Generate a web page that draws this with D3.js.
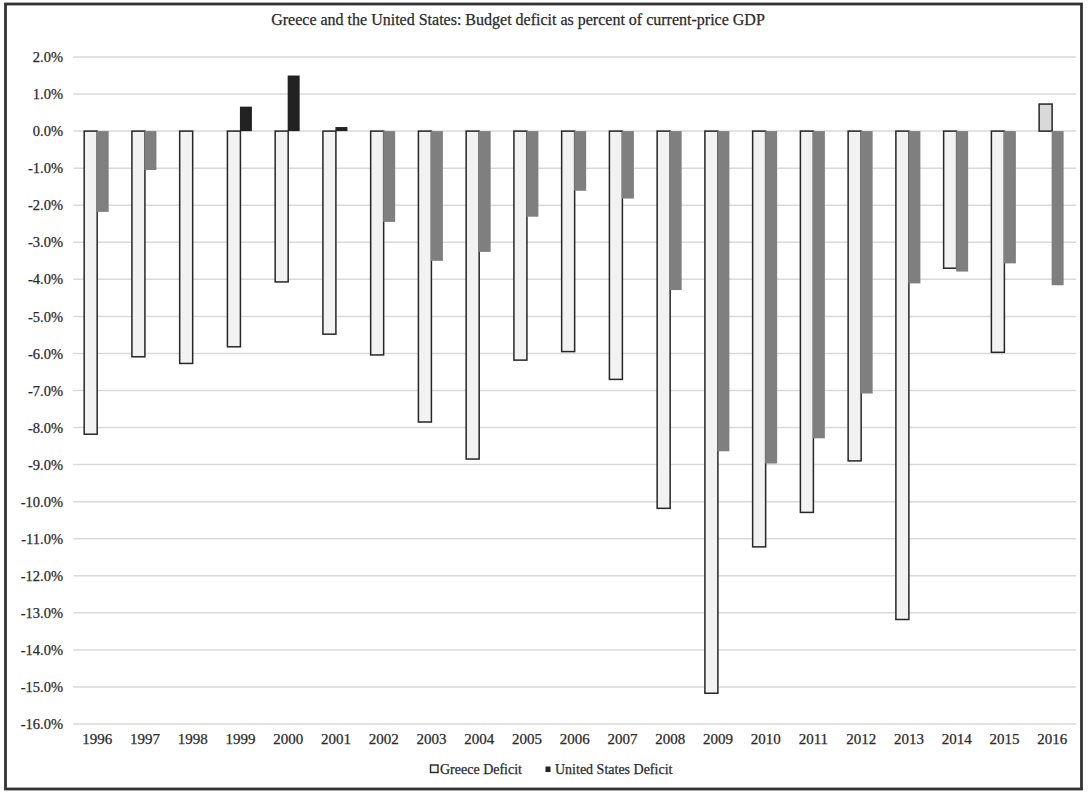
<!DOCTYPE html>
<html>
<head>
<meta charset="utf-8">
<script src="https://cdn.jsdelivr.net/npm/d3@7"></script>
<style>
  html, body { margin: 0; padding: 0; background: #fff; }
  svg { display: block; }
  text { font-family: "Liberation Serif", "DejaVu Serif", serif; fill: #2a2a2a; stroke: #2a2a2a; stroke-width: 0.25px; }
</style>
</head>
<body>
<svg id="chart" width="1088" height="792"></svg>
<script>
const years = ["1996","1997","1998","1999","2000","2001","2002","2003","2004","2005","2006","2007","2008","2009","2010","2011","2012","2013","2014","2015","2016"];
const greeceDeficit = [-8.18,-6.09,-6.27,-5.82,-4.07,-5.48,-6.04,-7.85,-8.85,-6.18,-5.95,-6.70,-10.18,-15.17,-11.22,-10.29,-8.90,-13.18,-3.70,-5.97,0.73];
const usDeficit = [-2.18,-1.05,0.0,0.66,1.50,0.11,-2.45,-3.50,-3.26,-2.31,-1.61,-1.82,-4.29,-8.64,-8.97,-8.29,-7.08,-4.11,-3.79,-3.57,-4.16];
const seriesNames = ["Greece Deficit","United States Deficit"];
const yTicks = [2,1,0,-1,-2,-3,-4,-5,-6,-7,-8,-9,-10,-11,-12,-13,-14,-15,-16];
const titleText = "Greece and the United States: Budget deficit as percent of current-price GDP";

const svg = d3.select("#chart");

// outer frame
svg.append("rect").attr("x", 5.5).attr("y", 4).attr("width", 1076).attr("height", 785)
  .attr("fill", "#fff").attr("stroke", "#333").attr("stroke-width", 2.8);

const x = d3.scaleBand().domain(years).range([73.3, 1076]).padding(0);
const xInner = d3.scaleBand().domain(seriesNames).range([0, x.bandwidth()]).paddingInner(0).paddingOuter(0.837);
const y = d3.scaleLinear().domain([-16, 2]).range([724, 57]);

// gridlines
svg.append("g").selectAll("line").data(yTicks).join("line")
  .attr("x1", x.range()[0]).attr("x2", x.range()[1])
  .attr("y1", d => y(d)).attr("y2", d => y(d))
  .attr("stroke", "#d9d9d9").attr("stroke-width", 1.5);

// y axis labels
const yAxis = d3.axisLeft(y).tickValues(yTicks).tickSize(0).tickPadding(0)
  .tickFormat(d => d.toFixed(1) + "%");
const gy = svg.append("g").attr("transform", "translate(63,0)").call(yAxis);
gy.select(".domain").remove();
gy.selectAll("text").attr("font-family", "Liberation Serif").attr("font-size", 14.5).attr("fill", "#2a2a2a");

// x axis labels
const xAxis = d3.axisBottom(x).tickSize(0).tickPadding(0);
const gx = svg.append("g").attr("transform", "translate(0,733)").call(xAxis);
gx.select(".domain").remove();
gx.selectAll("text").attr("font-family", "Liberation Serif").attr("font-size", 15).attr("fill", "#2a2a2a");

// Greece bars
const bars = svg.append("g");
bars.selectAll("rect.gr").data(years.map((yr, i) => ({yr, v: greeceDeficit[i]}))).join("rect")
  .attr("class", "gr")
  .attr("x", d => x(d.yr) + xInner(seriesNames[0]))
  .attr("width", xInner.bandwidth())
  .attr("y", d => y(Math.max(0, d.v)))
  .attr("height", d => Math.abs(y(d.v) - y(0)))
  .attr("fill", d => d.v >= 0 ? "#d9d9d9" : "#f2f2f2")
  .attr("stroke", "#262626").attr("stroke-width", 1.5);

// US bars
bars.selectAll("rect.us").data(years.map((yr, i) => ({yr, v: usDeficit[i]}))).join("rect")
  .attr("class", "us")
  .attr("x", d => x(d.yr) + xInner(seriesNames[1]) - 0.5)
  .attr("width", xInner.bandwidth() - 1)
  .attr("y", d => y(Math.max(0, d.v)))
  .attr("height", d => Math.abs(y(d.v) - y(0)))
  .attr("fill", d => d.v >= 0 ? "#222" : "#7f7f7f");

// title
svg.append("text").attr("x", 518).attr("y", 25).attr("text-anchor", "middle")
  .attr("font-size", 16).text(titleText);

// legend
const lg = svg.append("g");
lg.append("rect").attr("x", 430.5).attr("y", 765).attr("width", 7.5).attr("height", 7.5)
  .attr("fill", "#f2f2f2").attr("stroke", "#262626").attr("stroke-width", 1.4);
lg.append("text").attr("x", 440).attr("y", 774).attr("font-size", 14).text(seriesNames[0]);
lg.append("rect").attr("x", 545.5).attr("y", 766.5).attr("width", 5).attr("height", 5.5)
  .attr("fill", "#222");
lg.append("text").attr("x", 555).attr("y", 774).attr("font-size", 14).text(seriesNames[1]);
</script>
</body>
</html>
